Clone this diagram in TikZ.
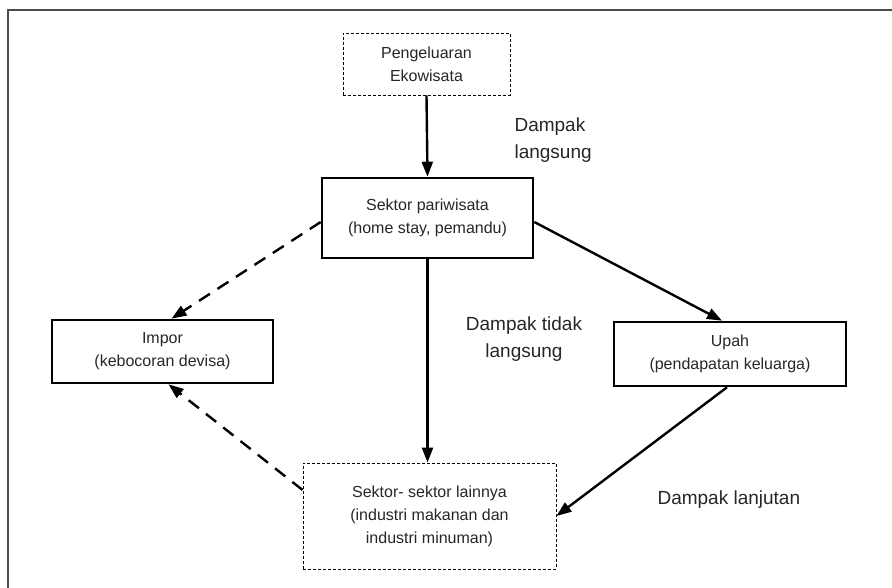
\documentclass[tikz,border=0pt]{standalone}
\usepackage{fontspec}
\setmainfont{Liberation Sans}
\usetikzlibrary{arrows.meta}

\begin{document}
\begin{tikzpicture}[x=1pt, y=-1pt,
    box/.style={draw, line width=2.6pt, align=center, inner sep=0pt,
            font=\fontsize{16}{23}\selectfont, text=black!85},
    softbox/.style={box, line width=0.9pt, densely dashed},
    link/.style={line width=2.4pt, -{Triangle[length=15pt, width=11pt]}},
    leak/.style={link, dash pattern=on 13pt off 9pt},
    lbl/.style={font=\fontsize{19}{27}\selectfont, text=black!85}]
    \useasboundingbox (0,0) rectangle (892,588);

    % Draw the frame of the scanned page
    \draw[line width=1.6pt, black!70] (8,588) -- (8,10) -- (892,10);

    % Draw the boxes
    \node[softbox, minimum width=167pt, minimum height=62pt] (spend) at (426.5,64)
        {Pengeluaran\\Ekowisata};
    \node[box, minimum width=211pt, minimum height=80pt] (tourism) at (427.5,218)
        {Sektor pariwisata\\(home stay, pemandu)};
    \node[box, minimum width=221pt, minimum height=63pt] (import) at (162.5,351.5)
        {Impor\\(kebocoran devisa)};
    \node[box, minimum width=232pt, minimum height=64pt] (wage) at (730,354)
        {Upah\\(pendapatan keluarga)};
    \node[softbox, minimum width=253pt, minimum height=106pt] (others) at (429.5,516)
        {Sektor- sektor lainnya\\(industri makanan dan\\industri minuman)};

    % Draw the flows between the boxes
    \draw[link] (spend.south) -- (tourism.north);
    \draw[link] (tourism.south) -- (tourism.south |- others.north);
    \draw[link] ([yshift=-4pt]tourism.east) -- ([xshift=-8pt]wage.north);
    \draw[link] ([xshift=-3pt]wage.south) -- (others.east);
    \draw[leak] ([yshift=-4pt]tourism.west) -- ([xshift=9pt]import.north);
    \draw[leak] ([yshift=26pt]others.west) -- ([xshift=6pt]import.south);

    % Labels of the impacts
    \node[lbl, anchor=west, align=left] (direct) at (511,140) {Dampak\\langsung};
    \node[lbl, align=center] (indirect) at (524,339) {Dampak tidak\\langsung};
    \node[lbl, anchor=west] (induced) at (654,500) {Dampak lanjutan};
\end{tikzpicture}
\end{document}
